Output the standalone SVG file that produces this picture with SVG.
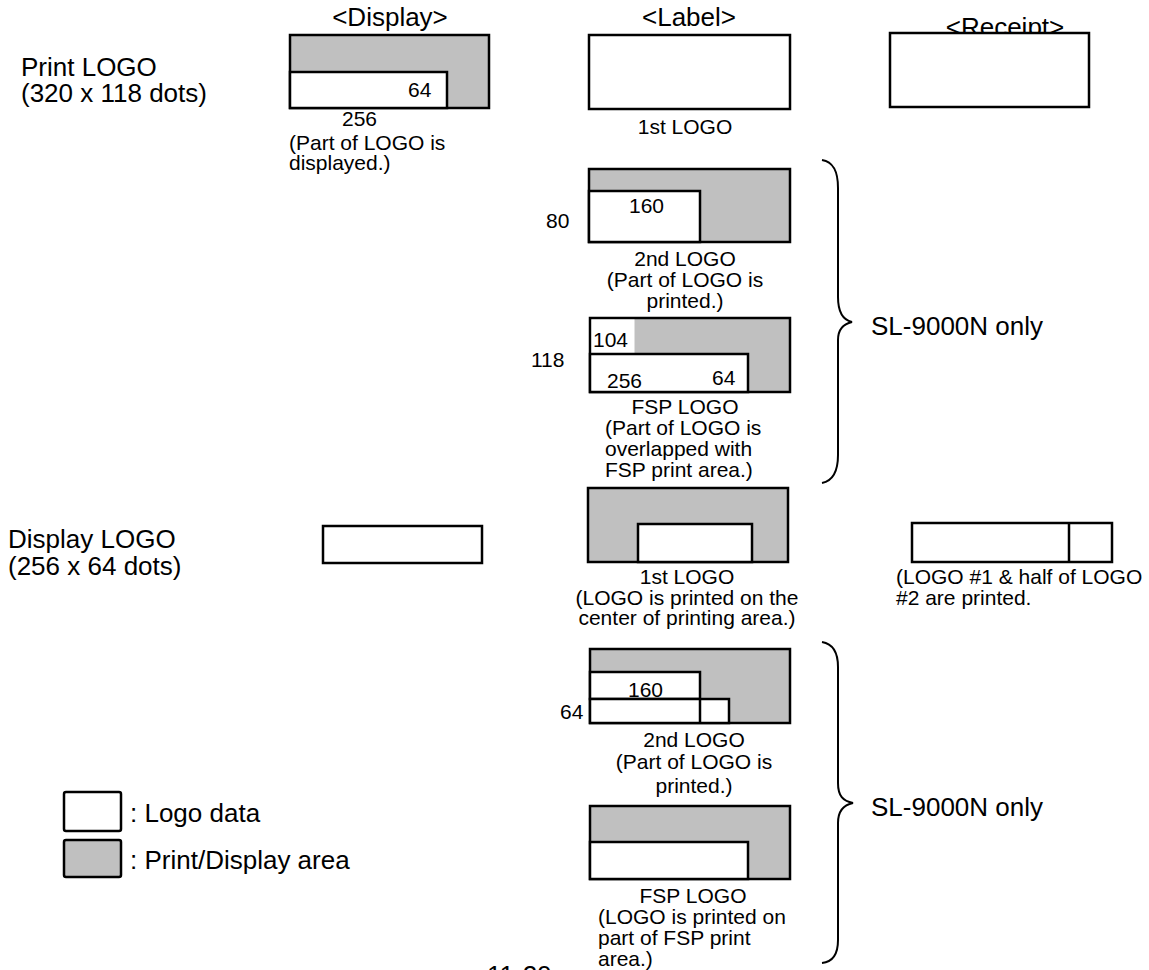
<svg xmlns="http://www.w3.org/2000/svg" width="1149" height="970" viewBox="0 0 1149 970">
<style>
text{font-family:"Liberation Sans",Arial,sans-serif;fill:#000}
.b{font-size:26px}
.s{font-size:21px}
.m{text-anchor:middle}
.area{fill:#c0c0c0;stroke:#000;stroke-width:2.5}
.data{fill:#fff;stroke:#000;stroke-width:2.5}
.brace{fill:none;stroke:#000;stroke-width:2}
</style>
<rect width="1149" height="970" fill="#fff"/>
<g id="row-labels">
<text class="b" x="21" y="76">Print LOGO</text>
<text class="b" x="21" y="102">(320 x 118 dots)</text>
<text class="b" x="8" y="548">Display LOGO</text>
<text class="b" x="8" y="575">(256 x 64 dots)</text>
</g>
<g id="col-headers">
<text class="b m" x="390" y="26">&lt;Display&gt;</text>
<text class="b m" x="689" y="26">&lt;Label&gt;</text>
<text class="b m" x="1005" y="36">&lt;Receipt&gt;</text>
</g>
<g id="print-display">
<rect class="area" x="290" y="35" width="199" height="73"/>
<rect class="data" x="290" y="72" width="157" height="36"/>
<text class="s" x="408" y="97">64</text>
<text class="s" x="342" y="126">256</text>
<text class="s" x="289" y="150">(Part of LOGO is</text>
<text class="s" x="289" y="170">displayed.)</text>
</g>
<g id="print-label-1st">
<rect class="data" x="589" y="35" width="201" height="74"/>
<text class="s m" x="685" y="134">1st LOGO</text>
</g>
<g id="print-receipt">
<rect class="data" x="890" y="33" width="199" height="74"/>
</g>
<g id="print-label-2nd">
<rect class="area" x="589" y="169" width="201" height="73"/>
<rect class="data" x="589" y="191" width="111" height="51"/>
<text class="s" x="629" y="213">160</text>
<text class="s" x="546" y="228">80</text>
<text class="s m" x="685" y="266">2nd LOGO</text>
<text class="s m" x="685" y="287">(Part of LOGO is</text>
<text class="s m" x="685" y="308">printed.)</text>
</g>
<g id="print-label-fsp">
<rect class="area" x="590" y="318" width="200" height="74"/>
<rect x="591.5" y="319.5" width="43" height="35" fill="#fff"/>
<rect class="data" x="590" y="354" width="158" height="38"/>
<text class="s" x="593" y="347">104</text>
<text class="s" x="531" y="367">118</text>
<text class="s" x="607" y="388">256</text>
<text class="s" x="712" y="385">64</text>
<text class="s m" x="685" y="414">FSP LOGO</text>
<text class="s" x="605" y="435">(Part of LOGO is</text>
<text class="s" x="605" y="456">overlapped with</text>
<text class="s" x="605" y="477">FSP print area.)</text>
</g>
<g id="disp-display">
<rect class="data" x="323" y="526" width="159" height="37"/>
</g>
<g id="disp-label-1st">
<rect class="area" x="588" y="488" width="200" height="74"/>
<rect class="data" x="638" y="524" width="114" height="38"/>
<text class="s m" x="687" y="584">1st LOGO</text>
<text class="s m" x="687" y="605">(LOGO is printed on the</text>
<text class="s m" x="687" y="625">center of printing area.)</text>
</g>
<g id="disp-receipt">
<rect class="data" x="912" y="523" width="200" height="39"/>
<line x1="1069" y1="523" x2="1069" y2="562" stroke="#000" stroke-width="2.5"/>
<text class="s" x="896" y="584">(LOGO #1 &amp; half of LOGO</text>
<text class="s" x="896" y="605">#2 are printed.</text>
</g>
<g id="disp-label-2nd">
<rect class="area" x="590" y="649" width="200" height="74"/>
<rect class="data" x="590" y="672" width="110" height="27"/>
<rect class="data" x="590" y="699" width="139" height="24"/>
<line x1="700" y1="699" x2="700" y2="723" stroke="#000" stroke-width="2.5"/>
<text class="s" x="628" y="697">160</text>
<text class="s" x="560" y="719">64</text>
<text class="s m" x="694" y="747">2nd LOGO</text>
<text class="s m" x="694" y="769">(Part of LOGO is</text>
<text class="s m" x="694" y="793">printed.)</text>
</g>
<g id="disp-label-fsp">
<rect class="area" x="590" y="806" width="200" height="73"/>
<rect class="data" x="590" y="842" width="158" height="37"/>
<text class="s m" x="693" y="903">FSP LOGO</text>
<text class="s" x="598" y="924">(LOGO is printed on</text>
<text class="s" x="598" y="945">part of FSP print</text>
<text class="s" x="598" y="966">area.)</text>
</g>
<g id="connectors">
<path class="brace" d="M822,160 C834,162 838,172 838,188 L838,297 C838,312 843,320 852,322 C843,324 838,330 838,340 L838,455 C838,472 832,481 822,483"/>
<path class="brace" d="M822,642 C834,644 838,654 838,667 L838,783 C838,796 843,801 853,803 C843,805 838,812 838,823 L838,940 C838,955 832,962 822,963"/>
</g>
<g id="brace-labels">
<text class="b" x="871" y="335">SL-9000N only</text>
<text class="b" x="871" y="816">SL-9000N only</text>
</g>
<g id="legend">
<rect class="data" x="64" y="792" width="57" height="39" rx="2"/>
<rect class="area" x="64" y="840" width="57" height="37" rx="2"/>
<text class="b" x="130" y="822">: Logo data</text>
<text class="b" x="130" y="869">: Print/Display area</text>
</g>
<g id="footer">
<text class="b" x="487" y="984">11-20</text>
</g>
</svg>
